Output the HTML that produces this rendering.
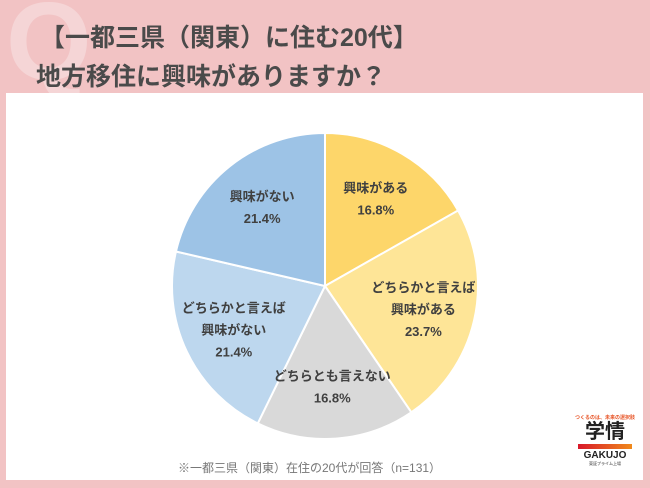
<!DOCTYPE html>
<html><head><meta charset="utf-8"><style>
body{margin:0;width:650px;height:488px;background:#f2c3c4;font-family:"Liberation Sans","Noto Sans CJK JP",sans-serif;position:relative;overflow:hidden}
.t{position:absolute;left:40px;font-weight:bold;color:#4a4a4a;font-size:25px;letter-spacing:0px}
#panel{position:absolute;left:6px;top:93px;width:637px;height:387px;background:#fff}
</style></head><body>
<div style="position:absolute;left:6px;top:-22px;font-size:110px;font-weight:bold;color:#f5d5d6;font-family:'Liberation Sans',sans-serif">Q</div>
<div class="t" style="top:18px">【一都三県（関東）に住む20代】</div>
<div class="t" style="top:57px;left:36px">地方移住に興味がありますか？</div>
<div id="panel"></div>
<svg id="pie" width="650" height="488" style="position:absolute;left:0;top:0"></svg>
<div style="position:absolute;left:178px;top:459px;font-size:12px;color:#777">※一都三県（関東）在住の20代が回答（n=131）</div>
<div style="position:absolute;left:570px;top:414px;width:70px;text-align:center;font-weight:bold">
<div style="font-size:5px;color:#e8572a">つくるのは、未来の選択肢</div>
<div style="font-size:20px;color:#222;line-height:22px">学情</div>
<div style="height:5px;margin:1px 8px;background:linear-gradient(90deg,#d8182a,#f08a1c)"></div>
<div style="font-size:10px;color:#222">GAKUJO</div>
<div style="font-size:4px;color:#777">東証プライム上場</div></div>
<script>
const categories=["興味がある","どちらかと言えば|興味がある","どちらとも言えない","どちらかと言えば|興味がない","興味がない"];
const values=[16.8,23.7,16.8,21.4,21.4];
const labels=["16.8%","23.7%","16.8%","21.4%","21.4%"];
const colors=["#fdd66a","#fee597","#d9d9d9","#bdd7ee","#9dc3e6"];
const cx=325,cy=286,r=153;
const svg=document.getElementById('pie');const NS="http://www.w3.org/2000/svg";
const total=values.reduce((a,b)=>a+b,0);
function pt(a,rr){return [cx+rr*Math.sin(a),cy-rr*Math.cos(a)];}
const texts=[];
let a0=0;
values.forEach((v,i)=>{
 const a1=a0+v/total*2*Math.PI;
 const p0=pt(a0,r),p1=pt(a1,r);
 const p=document.createElementNS(NS,'path');
 p.setAttribute('d',`M${cx},${cy}L${p0[0]},${p0[1]}A${r},${r} 0 ${a1-a0>Math.PI?1:0} 1 ${p1[0]},${p1[1]}Z`);
 p.setAttribute('fill',colors[i]);p.setAttribute('stroke','#fff');p.setAttribute('stroke-width','2');
 
 
 svg.appendChild(p);
 const mid=(a0+a1)/2;const c=pt(mid,r*0.66);
 const lines=categories[i].split('|').concat([labels[i]]);
 lines.forEach((s,j)=>{
  const t=document.createElementNS(NS,'text');
  t.setAttribute('x',c[0]);t.setAttribute('y',c[1]+(j-(lines.length-1)/2)*22+5);
  t.setAttribute('text-anchor','middle');t.setAttribute('font-size','13');t.setAttribute('font-weight','bold');t.setAttribute('fill','#404040');
  t.setAttribute('font-family','"Liberation Sans","Noto Sans CJK JP",sans-serif');
  
  
  t.textContent=s;texts.push(t);
 });
 a0=a1;
});
texts.forEach(t=>svg.appendChild(t));
</script>
</body></html>
